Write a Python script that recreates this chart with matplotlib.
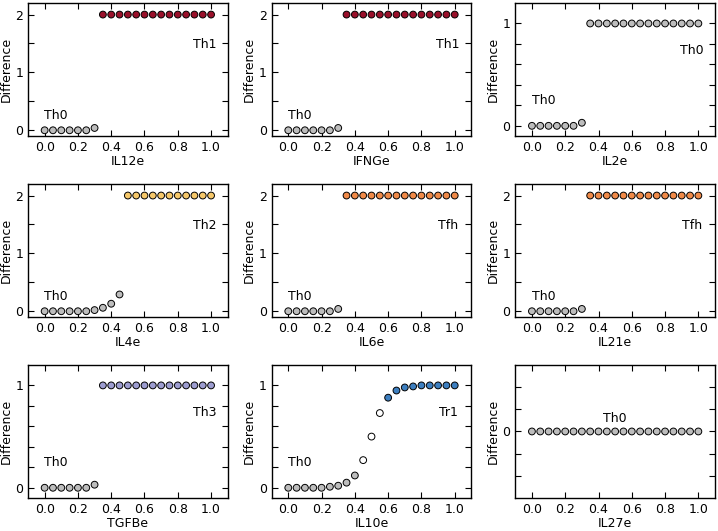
import numpy as np
import matplotlib
matplotlib.use('Agg')
import matplotlib.pyplot as plt

# input levels (x axis), same for all panels
x = [0.0, 0.05, 0.1, 0.15, 0.2, 0.25, 0.3, 0.35, 0.4, 0.45, 0.5,
     0.55, 0.6, 0.65, 0.7, 0.75, 0.8, 0.85, 0.9, 0.95, 1.0]

names = ['IL12e', 'IFNGe', 'IL2e', 'IL4e', 'IL6e', 'IL21e', 'TGFBe', 'IL10e', 'IL27e']

il12e = [0, 0, 0, 0, 0, 0, 0.04] + [2] * 14
ifnge = [0, 0, 0, 0, 0, 0, 0.04] + [2] * 14
il2e = [0, 0, 0, 0, 0, 0, 0.03] + [1] * 14
il4e = [0, 0, 0, 0, 0, 0, 0.02, 0.06, 0.13, 0.29] + [2] * 11
il6e = [0, 0, 0, 0, 0, 0, 0.04] + [2] * 14
il21e = [0, 0, 0, 0, 0, 0, 0.04] + [2] * 14
tgfbe = [0, 0, 0, 0, 0, 0, 0.03] + [1] * 14
il10e = [0, 0, 0, 0, 0, 0.01, 0.02, 0.05, 0.12, 0.27, 0.5, 0.73,
         0.88, 0.95, 0.98, 0.99, 1, 1, 1, 1, 1]
il27e = [0] * 21
values = [il12e, ifnge, il2e, il4e, il6e, il21e, tgfbe, il10e, il27e]

# phenotype of each point
states = [
    ['Th0'] * 7 + ['Th1'] * 14,
    ['Th0'] * 7 + ['Th1'] * 14,
    ['Th0'] * 21,
    ['Th0'] * 10 + ['Th2'] * 11,
    ['Th0'] * 7 + ['Tfh'] * 14,
    ['Th0'] * 7 + ['Tfh'] * 14,
    ['Th0'] * 7 + ['Th3'] * 14,
    ['Th0'] * 9 + ['mix'] * 3 + ['Tr1'] * 9,
    ['Th0'] * 21,
]

# labels written on each panel: (low label, high label)
labels = [('Th0', 'Th1'), ('Th0', 'Th1'), ('Th0', 'Th0'),
          ('Th0', 'Th2'), ('Th0', 'Tfh'), ('Th0', 'Tfh'),
          ('Th0', 'Th3'), ('Th0', 'Tr1'), ('Th0', None)]

colors = {'Th0': '#bdbdbd', 'Th1': '#99102a', 'Th2': '#f6c86a',
          'Tfh': '#f08a48', 'Th3': '#9d9dd0', 'Tr1': '#3d7fc0',
          'mix': '#ffffff'}

fig, axes = plt.subplots(3, 3, figsize=(7.18, 5.31), dpi=100)
fig.subplots_adjust(left=28/718, right=715/718, top=1-3/531, bottom=1-498/531,
                    wspace=0.22, hspace=0.36)

for i, ax in enumerate(axes.flat):
    y = values[i]
    c = [colors[s] for s in states[i]]
    ax.scatter(x, y, s=24, c=c, edgecolors='black', linewidths=0.7, zorder=3)
    ax.set_xlim(-0.1, 1.1)
    ax.set_xticks([0.0, 0.2, 0.4, 0.6, 0.8, 1.0])
    ax.set_xticklabels(['0.0', '0.2', '0.4', '0.6', '0.8', '1.0'])
    ymax = max(y)
    if ymax == 2:
        ax.set_ylim(-0.1, 2.2)
        ax.set_yticks([0, 0.5, 1, 1.5, 2])
        ax.set_yticklabels(['0', '', '1', '', '2'])
    elif ymax == 1:
        ax.set_ylim(-0.1, 1.2)
        ax.set_yticks([0, 0.2, 0.4, 0.6, 0.8, 1.0])
        ax.set_yticklabels(['0', '', '', '', '', '1'])
    else:
        ax.set_ylim(-0.6, 0.6)
        ax.set_yticks([-0.4, -0.2, 0, 0.2, 0.4])
        ax.set_yticklabels(['', '', '0', '', ''])
    ax.tick_params(direction='in', top=True, right=True, length=4, width=0.8,
                   labelsize=9)
    for sp in ax.spines.values():
        sp.set_linewidth(1.0)
    ax.set_xlabel(names[i], fontsize=9, labelpad=1)
    ax.set_ylabel('Difference', fontsize=9, labelpad=2)

    lo, hi = labels[i]
    if hi is None:
        ax.text(0.5, 0.12, lo, ha='center', va='center', fontsize=9)
    else:
        ax.text(0.07, 0.25, lo, ha='center', va='center', fontsize=9)
        ax.text(0.96, 0.74 * ymax, hi, ha='center', va='center', fontsize=9)

fig.savefig('out.png', dpi=100)
